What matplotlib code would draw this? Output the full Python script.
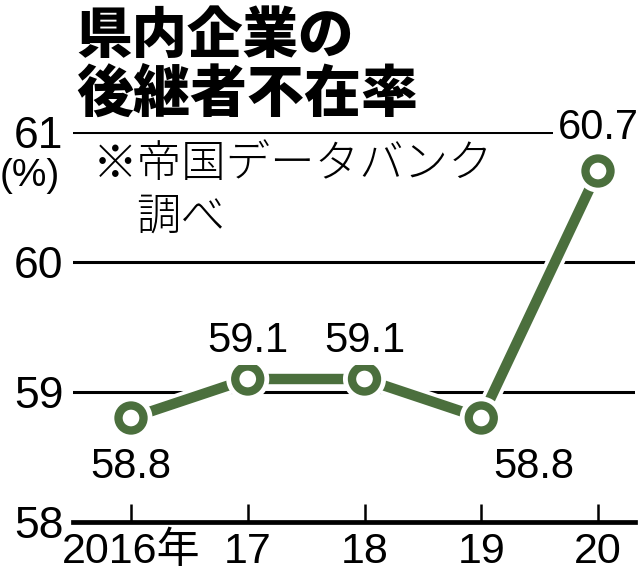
import matplotlib
matplotlib.use('Agg')
import matplotlib.pyplot as plt
import matplotlib.patheffects as pe

years = ['2016年', '17', '18', '19', '20']
rates = [58.8, 59.1, 59.1, 58.8, 60.7]
yticks = [58, 59, 60, 61]

# label offsets in pixels (dx, dy) relative to each point
label_offsets = [(0, -49), (0, 38), (0, 38), (53, -49), (0, 43)]

GREEN = '#4b6f3d'
NUM_FONT = ['Liberation Sans', 'DejaVu Sans']
JP_FONT = ['Noto Sans CJK JP', 'DejaVu Sans']
MIX_FONT = ['Liberation Sans', 'Noto Sans CJK JP', 'DejaVu Sans']

fig = plt.figure(figsize=(6.4, 5.79), dpi=100)
ax = fig.add_axes([73 / 640, 1 - 522 / 579, (635 - 73) / 640, (522 - 132) / 579])

x = list(range(len(years)))
ax.set_xlim(-58 / 116.75, 4 + 37 / 116.75)
ax.set_ylim(58, 61)

for s in ['top', 'right', 'left']:
    ax.spines[s].set_visible(False)
ax.spines['bottom'].set_linewidth(3.4)

ax.set_yticks(yticks)
ax.yaxis.grid(True, color='black', linewidth=2.2)
ax.set_axisbelow(True)
ax.tick_params(axis='y', length=0, pad=7)
ax.set_yticklabels([str(v) for v in yticks], family=NUM_FONT, fontsize=32)

ax.set_xticks(x)
ax.set_xticklabels(years, family=MIX_FONT, fontsize=31)
ax.tick_params(axis='x', direction='in', length=13, width=1.8, pad=7)

line, = ax.plot(x, rates, color=GREEN, linewidth=7.5, marker='o', markersize=18,
                markerfacecolor='white', markeredgecolor=GREEN, markeredgewidth=6,
                zorder=5, clip_on=False)
line.set_path_effects([pe.Stroke(linewidth=13, foreground='white'), pe.Normal()])

for xi, v, (dx, dy) in zip(x, rates, label_offsets):
    ax.annotate(f'{v:.1f}', (xi, v), xytext=(dx * 0.72, dy * 0.72), textcoords='offset points',
                ha='center', va='center', family=NUM_FONT, fontsize=30, zorder=6,
                bbox=dict(boxstyle='square,pad=0.1', facecolor='white', edgecolor='none'),
                annotation_clip=False)

fig.text(0, 1 - 176 / 579, '(%)', family=NUM_FONT, fontsize=28, ha='left', va='center')

fig.text(76 / 640, 1 - 36 / 579, '県内企業の', family=JP_FONT, fontsize=40,
         fontweight='black', ha='left', va='center')
fig.text(76 / 640, 1 - 95 / 579, '後継者不在率', family=JP_FONT, fontsize=41,
         fontweight='black', ha='left', va='center')

fig.text(93 / 640, 1 - 165 / 579, '※帝国データバンク', family=JP_FONT, fontsize=32,
         fontweight='light', ha='left', va='center')
fig.text(136 / 640, 1 - 217 / 579, '調べ', family=JP_FONT, fontsize=32,
         fontweight='light', ha='left', va='center')

fig.savefig('out.png', dpi=100)
